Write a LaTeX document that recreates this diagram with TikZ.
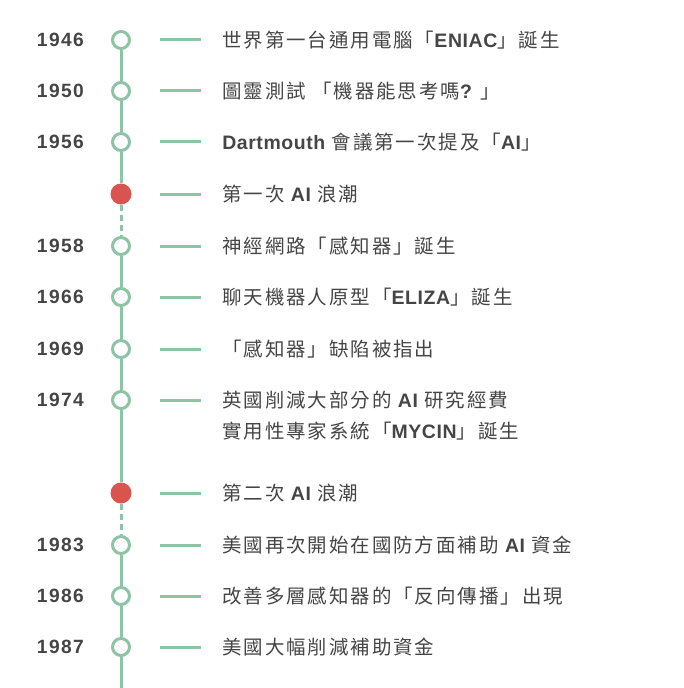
\documentclass[tikz,border=0pt]{standalone}
\usepackage{fontspec}
\setmainfont{Noto Sans CJK TC}[LetterSpace=10]
\newfontfamily\latinfont{Liberation Sans}[LetterSpace=3]
\newfontfamily\yearfam{Liberation Sans}[LetterSpace=7]
\usetikzlibrary{positioning}
\definecolor{mint}{HTML}{8CC4A5}
\definecolor{wavered}{HTML}{D9534F}
\definecolor{ink}{HTML}{454545}
\newcommand\eventfont{\fontsize{14.6pt}{23.25pt}\selectfont}
\newcommand\yearfont{\fontsize{14.4pt}{18pt}\selectfont\yearfam\bfseries}
\newcommand\en[1]{{\latinfont\bfseries #1}}
\tikzset{
  year/.style={anchor=east,text=ink,font=\yearfont,inner sep=0pt},
  event/.style={anchor=west,text=ink,font=\eventfont,inner sep=0pt,
                align=left},
  dot/.style={circle,draw=mint,fill=white,line width=2.25pt,
              minimum size=12.75pt,inner sep=0pt},
  wave/.style={circle,fill=wavered,minimum size=15.75pt,inner sep=0pt},
  stem/.style={draw=mint,line width=2.25pt},
  gapstem/.style={stem,dash pattern=on 4.5pt off 3pt},
  tick/.style={draw=mint,line width=2.25pt}
}

\begin{document}
\begin{tikzpicture}[x=0.75pt,y=-0.75pt]
    \useasboundingbox (0,0) rectangle (683,688);

    \node[year] (y46) at (84,40) {1946};
    \node[dot] (d46) at (121,40) {};
    \node[event] (e46) at (222,40)
      {世界第一台通用電腦「\en{ENIAC}」誕生};

    \node[year] (y50) at (84,91) {1950};
    \node[dot] (d50) at (121,91) {};
    \node[event] (e50) at (222,91)
      {圖靈測試 「機器能思考嗎\en{?} 」};

    \node[year] (y56) at (84,142) {1956};
    \node[dot] (d56) at (121,142) {};
    \node[event] (e56) at (222,142)
      {\en{Dartmouth} 會議第一次提及「\en{AI}」};

    \node[wave] (w1) at (121,194) {};
    \node[event] (ew1) at (222,194) {第一次 \en{AI} 浪潮};

    \node[year] (y58) at (84,246) {1958};
    \node[dot] (d58) at (121,246) {};
    \node[event] (e58) at (222,246) {神經網路「感知器」誕生};

    \node[year] (y66) at (84,297) {1966};
    \node[dot] (d66) at (121,297) {};
    \node[event] (e66) at (222,297)
      {聊天機器人原型「\en{ELIZA}」誕生};

    \node[year] (y69) at (84,349) {1969};
    \node[dot] (d69) at (121,349) {};
    \node[event] (e69) at (222,349) {「感知器」缺陷被指出};

    \node[year] (y74) at (84,400) {1974};
    \node[dot] (d74) at (121,400) {};
    \node[event] (e74) at (222,415.5)
      {英國削減大部分的 \en{AI} 研究經費\\
       實用性專家系統「\en{MYCIN}」誕生};

    \node[wave] (w2) at (121,493) {};
    \node[event] (ew2) at (222,493) {第二次 \en{AI} 浪潮};

    \node[year] (y83) at (84,545) {1983};
    \node[dot] (d83) at (121,545) {};
    \node[event] (e83) at (222,545)
      {美國再次開始在國防方面補助 \en{AI} 資金};

    \node[year] (y86) at (84,596) {1986};
    \node[dot] (d86) at (121,596) {};
    \node[event] (e86) at (222,596)
      {改善多層感知器的「反向傳播」出現};

    \node[year] (y87) at (84,647) {1987};
    \node[dot] (d87) at (121,647) {};
    \node[event] (e87) at (222,647) {美國大幅削減補助資金};

    \coordinate (tail) at (121,690);

    % the stem
    \draw[stem] (d46) -- (d50);
    \draw[stem] (d50) -- (d56);
    \draw[stem] (d56) -- (w1);
    \draw[gapstem] (w1) -- (d58);
    \draw[stem] (d58) -- (d66);
    \draw[stem] (d66) -- (d69);
    \draw[stem] (d69) -- (d74);
    \draw[stem] (d74) -- (w2);
    \draw[gapstem] (w2) -- (d83);
    \draw[stem] (d83) -- (d86);
    \draw[stem] (d86) -- (d87);
    \draw[stem] (d87) -- (tail);

    % ticks toward the events
    \draw[tick] ([xshift=29.25pt]d46.center) -- ([xshift=60pt]d46.center);
    \draw[tick] ([xshift=29.25pt]d50.center) -- ([xshift=60pt]d50.center);
    \draw[tick] ([xshift=29.25pt]d56.center) -- ([xshift=60pt]d56.center);
    \draw[tick] ([xshift=29.25pt]w1.center) -- ([xshift=60pt]w1.center);
    \draw[tick] ([xshift=29.25pt]d58.center) -- ([xshift=60pt]d58.center);
    \draw[tick] ([xshift=29.25pt]d66.center) -- ([xshift=60pt]d66.center);
    \draw[tick] ([xshift=29.25pt]d69.center) -- ([xshift=60pt]d69.center);
    \draw[tick] ([xshift=29.25pt]d74.center) -- ([xshift=60pt]d74.center);
    \draw[tick] ([xshift=29.25pt]w2.center) -- ([xshift=60pt]w2.center);
    \draw[tick] ([xshift=29.25pt]d83.center) -- ([xshift=60pt]d83.center);
    \draw[tick] ([xshift=29.25pt]d86.center) -- ([xshift=60pt]d86.center);
    \draw[tick] ([xshift=29.25pt]d87.center) -- ([xshift=60pt]d87.center);
  \end{tikzpicture}
\end{document}
